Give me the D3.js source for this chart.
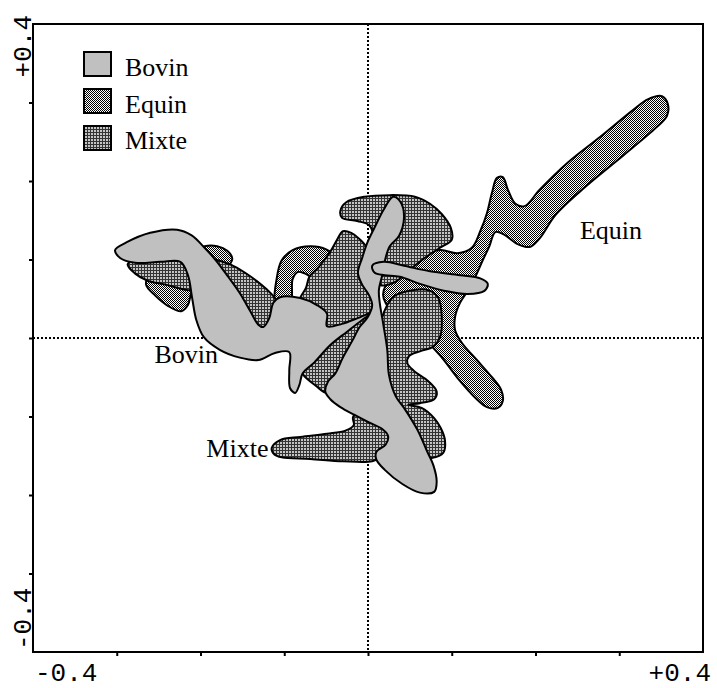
<!DOCTYPE html>
<html>
<head>
<meta charset="utf-8">
<script src="https://cdn.jsdelivr.net/npm/d3@7"></script>
<style>
  body { margin: 0; background: #fff; }
</style>
</head>
<body>
<script>
// groups, drawn bottom to top: Equin, Mixte, Bovin
let categories = ['Bovin', 'Equin', 'Mixte'];
let axisLabels = ['-0.4', '+0.4'];
let tickValues = [-0.3, -0.2, -0.1, 0, 0.1, 0.2, 0.3];

// outlines of each zone, in axis units
let equinShapes = [
  [[0.351, 0.308], [0.334, 0.304], [0.316, 0.290], [0.277, 0.256], [0.238, 0.223], [0.205, 0.189],
   [0.187, 0.168], [0.176, 0.171], [0.167, 0.189], [0.161, 0.205], [0.154, 0.204], [0.148, 0.185],
   [0.142, 0.159], [0.134, 0.136], [0.124, 0.115], [0.107, 0.108], [0.086, 0.112], [0.056, 0.102],
   [0.032, 0.084], [0.018, 0.055], [0.029, 0.033], [0.062, 0.004], [0.086, -0.022], [0.107, -0.051],
   [0.128, -0.076], [0.142, -0.088], [0.155, -0.089], [0.161, -0.080], [0.159, -0.066], [0.148, -0.050],
   [0.130, -0.028], [0.112, -0.006], [0.104, 0.010], [0.104, 0.027], [0.110, 0.045], [0.119, 0.060],
   [0.129, 0.080], [0.137, 0.099], [0.145, 0.117], [0.152, 0.135], [0.162, 0.132], [0.178, 0.120],
   [0.193, 0.116], [0.205, 0.127], [0.224, 0.157], [0.261, 0.194], [0.303, 0.231], [0.344, 0.268],
   [0.357, 0.283], [0.358, 0.298]],
  [[-0.110, 0.042], [-0.109, 0.076], [-0.103, 0.099], [-0.090, 0.112], [-0.069, 0.117], [-0.050, 0.113],
   [-0.038, 0.102], [-0.041, 0.080], [-0.060, 0.074], [-0.075, 0.082], [-0.084, 0.084], [-0.090, 0.075],
   [-0.093, 0.043]],
  [[-0.265, 0.068], [-0.260, 0.082], [-0.242, 0.094], [-0.213, 0.107], [-0.195, 0.117], [-0.180, 0.117],
   [-0.168, 0.111], [-0.162, 0.101], [-0.171, 0.087], [-0.195, 0.071], [-0.210, 0.059], [-0.215, 0.042],
   [-0.223, 0.034], [-0.239, 0.041], [-0.254, 0.054]]
];

let mixteShapes = [
  [[-0.033, 0.162], [-0.026, 0.173], [-0.004, 0.180], [0.026, 0.182], [0.056, 0.180], [0.074, 0.171],
   [0.088, 0.158], [0.099, 0.140], [0.100, 0.125], [0.086, 0.115], [0.068, 0.102], [0.050, 0.087],
   [0.032, 0.071], [0.014, 0.068], [0.010, 0.112], [0.002, 0.143], [-0.013, 0.149], [-0.031, 0.153]],
  [[-0.287, 0.094], [-0.272, 0.104], [-0.242, 0.110], [-0.213, 0.110], [-0.185, 0.101], [-0.161, 0.092],
   [-0.141, 0.079], [-0.121, 0.062], [-0.110, 0.048], [-0.111, 0.025], [-0.123, 0.008], [-0.141, 0.023],
   [-0.165, 0.048], [-0.189, 0.059], [-0.215, 0.061], [-0.242, 0.068], [-0.263, 0.073], [-0.278, 0.082]],
  [[-0.081, 0.051], [-0.074, 0.064], [-0.070, 0.078], [-0.060, 0.089], [-0.045, 0.110], [-0.037, 0.125],
   [-0.030, 0.136], [-0.020, 0.134], [-0.010, 0.126], [0.000, 0.112], [0.000, 0.076], [0.005, 0.059],
   [0.014, 0.010], [-0.021, -0.054], [-0.049, -0.070], [-0.062, -0.061], [-0.078, -0.046], [-0.086, -0.025],
   [-0.090, 0.017]],
  [[0.023, 0.042], [0.032, 0.054], [0.048, 0.060], [0.072, 0.061], [0.084, 0.051], [0.088, 0.027],
   [0.086, 0.001], [0.078, -0.011], [0.062, -0.017], [0.049, -0.023], [0.047, -0.032], [0.055, -0.042],
   [0.072, -0.055], [0.082, -0.068], [0.079, -0.078], [0.062, -0.083], [0.048, -0.085], [0.064, -0.089],
   [0.079, -0.102], [0.087, -0.115], [0.092, -0.131], [0.090, -0.146], [0.076, -0.153], [0.062, -0.152],
   [0.050, -0.130], [0.031, -0.079], [0.019, -0.028], [0.014, 0.010]],
  [[-0.115, -0.140], [-0.105, -0.130], [-0.081, -0.126], [-0.049, -0.122], [-0.027, -0.118], [-0.017, -0.111],
   [-0.018, -0.101], [-0.010, -0.092], [0.014, -0.104], [0.029, -0.130], [0.014, -0.152], [0.005, -0.157],
   [-0.030, -0.157], [-0.069, -0.154], [-0.103, -0.152], [-0.112, -0.148]]
];

let bovinShapes = [
  [[-0.302, 0.112], [-0.288, 0.122], [-0.260, 0.134], [-0.228, 0.138], [-0.211, 0.131], [-0.196, 0.116],
   [-0.181, 0.098], [-0.167, 0.078], [-0.153, 0.057], [-0.140, 0.033], [-0.131, 0.017], [-0.125, 0.014],
   [-0.118, 0.025], [-0.113, 0.045], [-0.105, 0.052], [-0.081, 0.051], [-0.061, 0.042], [-0.049, 0.031],
   [-0.049, 0.015], [-0.031, 0.018], [-0.013, 0.025], [0.006, 0.033], [-0.007, 0.023], [-0.025, 0.008],
   [-0.045, -0.009], [-0.064, -0.031], [-0.078, -0.045], [-0.082, -0.060], [-0.087, -0.070], [-0.093, -0.064],
   [-0.094, -0.041], [-0.094, -0.018], [-0.111, -0.019], [-0.131, -0.028], [-0.153, -0.025], [-0.177, -0.015],
   [-0.196, 0.001], [-0.205, 0.023], [-0.210, 0.051], [-0.215, 0.080], [-0.224, 0.097], [-0.248, 0.097],
   [-0.278, 0.096], [-0.296, 0.102]],
  [[0.030, 0.180], [0.039, 0.173], [0.043, 0.153], [0.037, 0.130], [0.026, 0.117], [0.021, 0.102],
   [0.017, 0.080], [0.013, 0.061], [0.014, 0.045], [0.018, 0.019], [0.023, -0.015], [0.025, -0.047],
   [0.033, -0.074], [0.043, -0.089], [0.059, -0.117], [0.070, -0.143], [0.078, -0.162], [0.082, -0.183],
   [0.079, -0.196], [0.062, -0.197], [0.041, -0.186], [0.020, -0.168], [0.010, -0.155], [0.010, -0.145],
   [0.021, -0.136], [0.024, -0.125], [0.017, -0.116], [0.000, -0.107], [-0.016, -0.098], [-0.033, -0.088],
   [-0.045, -0.078], [-0.051, -0.068], [-0.048, -0.056], [-0.039, -0.045], [-0.030, -0.025], [-0.019, -0.004],
   [-0.010, 0.014], [0.000, 0.027], [0.005, 0.042], [0.001, 0.055], [-0.007, 0.068], [-0.012, 0.083],
   [-0.007, 0.102], [-0.001, 0.121], [0.008, 0.141], [0.019, 0.164]],
  [[0.005, 0.092], [0.019, 0.097], [0.043, 0.092], [0.074, 0.085], [0.110, 0.080], [0.134, 0.076],
   [0.143, 0.069], [0.139, 0.060], [0.119, 0.056], [0.092, 0.060], [0.062, 0.069], [0.038, 0.078],
   [0.020, 0.080], [0.008, 0.083]]
];

// zone label positions
let zoneLabels = [
  { name: 'Bovin', x: -0.255, y: -0.032 },
  { name: 'Equin', x: 0.253, y: 0.126 },
  { name: 'Mixte', x: -0.193, y: -0.151 }
];

let svg = d3.select('body')
  .append('svg')
  .attr('width', 717)
  .attr('height', 688);

let xScale = d3.scaleLinear().domain([-0.4, 0.4]).range([33, 703]);
let yScale = d3.scaleLinear().domain([-0.4, 0.4]).range([652, 24]);

let fills = { Bovin: '#c0c0c0', Equin: 'url(#equin)', Mixte: 'url(#mixte)' };

makePatterns();
drawCross();
drawZones(equinShapes, fills.Equin);
drawZones(mixteShapes, fills.Mixte);
drawZones(bovinShapes, fills.Bovin);
drawFrame();
drawLegend();

function makePatterns() {
  let defs = svg.append('defs');

  let eq = defs.append('pattern')
    .attr('id', 'equin')
    .attr('patternUnits', 'userSpaceOnUse')
    .attr('width', 2).attr('height', 2);
  eq.append('rect').attr('width', 2).attr('height', 2).attr('fill', '#fff');
  eq.append('rect').attr('x', 0).attr('y', 0).attr('width', 1).attr('height', 1).attr('fill', '#000');
  eq.append('rect').attr('x', 1).attr('y', 1).attr('width', 1).attr('height', 1).attr('fill', '#000');

  let mx = defs.append('pattern')
    .attr('id', 'mixte')
    .attr('patternUnits', 'userSpaceOnUse')
    .attr('width', 3).attr('height', 3);
  mx.append('rect').attr('width', 3).attr('height', 3).attr('fill', '#c4c4c4');
  mx.append('rect').attr('width', 3).attr('height', 1).attr('fill', '#333');
  mx.append('rect').attr('width', 1).attr('height', 3).attr('fill', '#333');

  defs.selectAll('rect').attr('shape-rendering', 'crispEdges');
}

function drawCross() {
  // dotted zero lines, under the zones
  svg.append('line')
    .attr('x1', xScale(0)).attr('x2', xScale(0))
    .attr('y1', yScale(0.4)).attr('y2', yScale(-0.4))
    .attr('stroke', 'black').attr('stroke-width', 2)
    .attr('stroke-dasharray', '2,2');
  svg.append('line')
    .attr('x1', xScale(-0.4)).attr('x2', xScale(0.4))
    .attr('y1', yScale(0)).attr('y2', yScale(0))
    .attr('stroke', 'black').attr('stroke-width', 2)
    .attr('stroke-dasharray', '2,2');
}

function drawZones(shapes, fill) {
  let lineFunction = d3.line()
    .x(d => xScale(d[0]))
    .y(d => yScale(d[1]))
    .curve(d3.curveCatmullRomClosed.alpha(0.5));

  svg.append('g')
    .selectAll('path')
    .data(shapes)
    .join('path')
    .attr('d', lineFunction)
    .attr('fill', fill)
    .attr('stroke', 'black')
    .attr('stroke-width', 2)
    .attr('stroke-linejoin', 'round');
}

function drawFrame() {
  svg.append('g')
    .attr('transform', `translate(0,${yScale(-0.4)})`)
    .call(d3.axisBottom(xScale).tickValues(tickValues).tickSize(4).tickSizeOuter(0).tickFormat(''))
    .call(g => g.select('.domain').remove())
    .selectAll('line').attr('stroke-width', 2);

  svg.append('g')
    .attr('transform', `translate(${xScale(-0.4)},0)`)
    .call(d3.axisLeft(yScale).tickValues(tickValues).tickSize(4).tickSizeOuter(0).tickFormat(''))
    .call(g => g.select('.domain').remove())
    .selectAll('line').attr('stroke-width', 2);

  svg.append('rect')
    .attr('x', xScale(-0.4)).attr('y', yScale(0.4))
    .attr('width', xScale(0.4) - xScale(-0.4))
    .attr('height', yScale(-0.4) - yScale(0.4))
    .attr('fill', 'none')
    .attr('stroke', 'black')
    .attr('stroke-width', 2);

  let mono = g => g.attr('font-family', '"Liberation Mono", "DejaVu Sans Mono", monospace')
    .attr('font-size', 26).attr('fill', 'black');

  svg.append('text').call(mono)
    .attr('x', xScale(-0.4) + 2).attr('y', 681)
    .text(axisLabels[0]);
  svg.append('text').call(mono)
    .attr('x', xScale(0.4) + 8).attr('y', 681)
    .attr('text-anchor', 'end')
    .text(axisLabels[1]);
  svg.append('text').call(mono)
    .attr('transform', `translate(31,${yScale(-0.4) - 2}) rotate(-90)`)
    .text(axisLabels[0]);
  svg.append('text').call(mono)
    .attr('transform', `translate(31,${yScale(0.4) - 9}) rotate(-90)`)
    .attr('text-anchor', 'end')
    .text(axisLabels[1]);

  svg.selectAll('.zone-label')
    .data(zoneLabels)
    .join('text')
    .attr('class', 'zone-label')
    .attr('x', d => xScale(d.x))
    .attr('y', d => yScale(d.y))
    .attr('font-family', '"Liberation Serif", "Times New Roman", serif')
    .attr('font-size', 26)
    .text(d => d.name);
}

function drawLegend() {
  let legend = svg.append('g');
  categories.forEach((c, i) => {
    legend.append('rect')
      .attr('x', 84).attr('y', 52 + i * 37)
      .attr('width', 27).attr('height', 24)
      .attr('fill', fills[c])
      .attr('stroke', 'black')
      .attr('stroke-width', 2);
    legend.append('text')
      .attr('x', 125).attr('y', 76 + i * 36.5)
      .attr('font-family', '"Liberation Serif", "Times New Roman", serif')
      .attr('font-size', 26)
      .text(c);
  });
}
</script>
</body>
</html>
